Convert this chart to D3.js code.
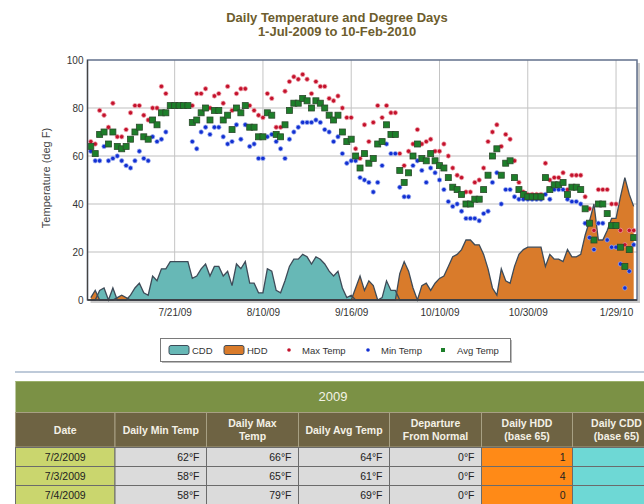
<!DOCTYPE html>
<html><head><meta charset="utf-8">
<script src="https://cdn.jsdelivr.net/npm/d3@7"></script>
<style>
body{margin:0;background:#fff;}
svg{display:block;font-family:"Liberation Sans",Arial,sans-serif;}
</style></head><body>
<svg id="c" width="644" height="504"></svg>
<script>
const dates = [
"7/2/09","7/3/09","7/4/09","7/5/09","7/6/09","7/7/09","7/8/09","7/9/09","7/10/09","7/11/09",
"7/12/09","7/13/09","7/14/09","7/15/09","7/16/09","7/17/09","7/18/09","7/19/09","7/20/09","7/21/09",
"7/22/09","7/23/09","7/24/09","7/25/09","7/26/09","7/27/09","7/28/09","7/29/09","7/30/09","7/31/09",
"8/1/09","8/2/09","8/3/09","8/4/09","8/5/09","8/6/09","8/7/09","8/8/09","8/9/09","8/10/09",
"8/11/09","8/12/09","8/13/09","8/14/09","8/15/09","8/16/09","8/17/09","8/18/09","8/19/09","8/20/09",
"8/21/09","8/22/09","8/23/09","8/24/09","8/25/09","8/26/09","8/27/09","9/14/09","9/15/09","9/16/09",
"9/17/09","9/18/09","9/19/09","9/20/09","9/21/09","9/22/09","9/23/09","9/24/09","9/25/09","9/26/09",
"9/27/09","9/28/09","9/29/09","9/30/09","10/1/09","10/2/09","10/7/09","10/8/09","10/9/09","10/10/09",
"10/11/09","10/12/09","10/13/09","10/14/09","10/15/09","10/16/09","10/17/09","10/18/09","10/19/09","10/20/09",
"10/21/09","10/22/09","10/23/09","10/24/09","10/25/09","10/26/09","10/27/09","10/28/09","10/29/09","10/30/09",
"10/31/09","11/1/09","11/2/09","11/3/09","11/4/09","11/5/09","11/6/09","11/7/09","11/8/09","11/9/09",
"11/10/09","11/11/09","11/12/09","11/13/09","11/14/09","11/15/09","1/26/10","1/27/10","1/28/10","1/29/10",
"2/7/10","2/8/10","2/9/10","2/10/10"];
const maxTemp = [
66,65,79,77,72,82,68,68,71,78, 81,81,77,75,80,80,89,86,81,81,
81,81,81,81,86,86,88,80,85,86, 82,89,79,86,88,88,81,79,77,76,
86,84,72,72,87,91,93,92,94,92, 86,91,89,89,84,83,85,80,76,76,
63,59,73,66,74,81,76,81,78,78, 61,56,62,65,71,65,66,67,62,62,
65,60,55,52,51,45,45,49,50,55, 66,70,73,64,69,67,58,49,45,44,
44,44,44,57,50,51,51,53,46,52, 52,52,43,38,29,46,46,46,40,40,
29,23,29,29];
const minTemp = [
62,58,58,64,58,59,60,58,56,55, 58,62,59,58,68,66,67,70,81,81,
81,81,81,66,63,70,72,69,72,72, 68,65,66,73,67,73,64,65,59,59,
68,69,66,63,59,67,70,72,74,74, 74,75,74,71,70,66,68,61,57,58,
58,51,50,49,45,49,56,65,61,61, 47,43,43,56,58,54,49,55,53,50,
46,41,39,40,37,34,34,34,33,36, 37,49,53,40,46,46,43,42,42,42,
42,42,42,44,42,46,46,46,42,41, 41,40,32,26,21,32,32,25,22,22,
15,5,12,23];
const avgTemp = [
64,61,69,70,65,70,64,63,64,67, 70,72,68,67,75,73,78,78,81,81,
81,81,81,74,75,78,80,75,79,79, 75,77,71,80,78,81,72,72,68,68,
78,77,69,68,73,79,82,82,84,83, 80,83,82,80,77,75,77,70,66,67,
60,55,61,57,59,65,66,73,69,69, 54,49,53,60,65,59,58,61,58,56,
55,51,47,46,44,40,40,42,42,46, 52,60,63,52,57,58,51,46,44,43,
43,43,43,51,46,48,48,49,44,47, 47,46,38,32,25,40,40,36,31,31,
22,14,21,26];
const cddValues = [
0,0,4,5,0,5,0,0,0,2, 5,7,3,2,10,8,13,13,16,16,
16,16,16,9,10,13,15,10,14,14, 10,12,6,15,13,16,7,7,3,3,
13,12,4,3,8,14,17,17,19,18, 15,18,17,15,12,10,12,5,1,2,
0,0,0,0,0,0,1,8,4,4, 0,0,0,0,0,0,0,0,0,0,
0,0,0,0,0,0,0,0,0,0, 0,0,0,0,0,0,0,0,0,0,
0,0,0,0,0,0,0,0,0,0, 0,0,0,0,0,0,0,0,0,0,
0,0,0,0];
const hddValues = [
1,4,0,0,0,0,1,2,1,0, 0,0,0,0,0,0,0,0,0,0,
0,0,0,0,0,0,0,0,0,0, 0,0,0,0,0,0,0,0,0,0,
0,0,0,0,0,0,0,0,0,0, 0,0,0,0,0,0,0,0,0,0,
5,10,4,8,6,0,0,0,0,0, 11,16,12,5,0,6,7,4,7,9,
10,14,18,19,21,25,25,23,23,19, 13,5,2,13,8,7,14,19,21,22,
22,22,22,14,19,17,17,16,21,18, 18,19,27,33,40,25,25,29,34,34,
43,51,44,39];
const tickLabels = ["7/21/09","8/10/09","9/16/09","10/10/09","10/30/09","1/29/10"];
const yTicks = [0,20,40,60,80,100];
const legendLabels = ["CDD","HDD","Max Temp","Min Temp","Avg Temp"];
const titleLines = ["Daily Temperature and Degree Days","1-Jul-2009 to 10-Feb-2010"];
const yTitle = "Temperature (deg F)";

const tableYear = "2009";
const tableHeaders = [["Date"],["Daily Min Temp"],["Daily Max","Temp"],["Daily Avg Temp"],["Departure","From Normal"],["Daily HDD","(base 65)"],["Daily CDD","(base 65)"]];
const tableDates = ["7/2/2009","7/3/2009","7/4/2009"];
const tableMin = [62,58,58];
const tableMax = [66,65,79];
const tableAvg = [64,61,69];
const tableDep = [0,0,0];
const tableHDD = [1,4,0];

const svg = d3.select("#c");
const L = 87.5, R = 637, T = 60, B = 300;
const x = d3.scalePoint().domain(dates).range([L, R]).padding(0.75);
const y = d3.scaleLinear().domain([0, 100]).range([B, T]);

// titles
svg.selectAll("text.title").data(titleLines).join("text")
  .attr("x", 337).attr("y", (d, i) => 22 + i * 14)
  .attr("text-anchor", "middle").attr("font-weight", "bold").attr("font-size", 13)
  .attr("fill", "#6d5d2d").text(d => d);

// plot shadow & background
svg.append("rect").attr("x", L + 3).attr("y", T + 3).attr("width", R - L).attr("height", B - T).attr("fill", "#c9c9c9");
svg.append("rect").attr("x", L).attr("y", T).attr("width", R - L).attr("height", B - T).attr("fill", "#fff");

// grid
svg.append("g").selectAll("line").data(yTicks.filter(d => d > 0 && d < 100)).join("line")
  .attr("x1", L).attr("x2", R).attr("y1", d => y(d)).attr("y2", d => y(d))
  .attr("stroke", "#d4d4d4").attr("stroke-width", 1.5);
svg.append("g").selectAll("line").data(tickLabels).join("line")
  .attr("x1", d => x(d)).attr("x2", d => x(d)).attr("y1", T).attr("y2", B)
  .attr("stroke", "#c4c4c4").attr("stroke-width", 1);

// areas
const area = d3.area().x((d, i) => x(dates[i])).y0(y(0)).y1(d => y(d));
const topLine = d3.line().x((d, i) => x(dates[i])).y(d => y(d));
svg.append("path").datum(cddValues).attr("d", area).attr("fill", "#67b8b6");
svg.append("path").datum(hddValues).attr("d", area).attr("fill", "#d97b2b");
svg.append("path").datum(cddValues).attr("d", topLine).attr("fill", "none").attr("stroke", "#3e4b58").attr("stroke-width", 1.3);
svg.append("path").datum(hddValues).attr("d", topLine).attr("fill", "none").attr("stroke", "#3e4b58").attr("stroke-width", 1.3);

// markers
svg.append("g").selectAll("circle").data(maxTemp).join("circle")
  .attr("cx", (d, i) => x(dates[i])).attr("cy", d => y(d)).attr("r", 2.2)
  .attr("fill", "#c3122c").attr("stroke", "#f2a3ad").attr("stroke-width", 0.7);
svg.append("g").selectAll("circle").data(minTemp).join("circle")
  .attr("cx", (d, i) => x(dates[i])).attr("cy", d => y(d)).attr("r", 2.2)
  .attr("fill", "#1230d2").attr("stroke", "#9fb0f2").attr("stroke-width", 0.7);
svg.append("g").selectAll("rect").data(avgTemp).join("rect")
  .attr("x", (d, i) => x(dates[i]) - 3).attr("y", d => y(d) - 3).attr("width", 6).attr("height", 6)
  .attr("fill", "#1d7f2a").attr("stroke", "#2b4a2b").attr("stroke-width", 0.8);

// frame
svg.append("rect").attr("x", L).attr("y", T).attr("width", R - L).attr("height", B - T)
  .attr("fill", "none").attr("stroke", "#62708c").attr("stroke-width", 1.5);
svg.append("line").attr("x1", L).attr("x2", R).attr("y1", B).attr("y2", B).attr("stroke", "#333").attr("stroke-width", 1.5);
svg.append("line").attr("x1", L).attr("x2", L).attr("y1", T).attr("y2", B).attr("stroke", "#444").attr("stroke-width", 1.2);

// axes
const yAxis = svg.append("g").attr("transform", `translate(${L},0)`)
  .call(d3.axisLeft(y).tickValues(yTicks).tickSize(0).tickPadding(4));
yAxis.select(".domain").remove();
yAxis.selectAll("text").attr("font-size", 10).attr("fill", "#333").attr("font-family", "Liberation Sans, Arial, sans-serif");
const xAxis = svg.append("g").attr("transform", `translate(0,${B})`)
  .call(d3.axisBottom(x).tickValues(tickLabels).tickSize(0).tickPadding(9));
xAxis.select(".domain").remove();
xAxis.selectAll("text").attr("font-size", 10).attr("fill", "#333").attr("font-family", "Liberation Sans, Arial, sans-serif");

svg.append("text").attr("transform", "translate(50,178) rotate(-90)")
  .attr("text-anchor", "middle").attr("font-size", 11).attr("fill", "#444").text(yTitle);

// legend
const lg = svg.append("g");
lg.append("rect").attr("x", 162).attr("y", 340).attr("width", 350).attr("height", 23).attr("fill", "#bbb");
lg.append("rect").attr("x", 160.5).attr("y", 338.5).attr("width", 350).attr("height", 23).attr("fill", "#fff").attr("stroke", "#7a7a7a");
const ly = 350;
lg.append("rect").attr("x", 169).attr("y", ly - 4.5).attr("width", 20).attr("height", 9).attr("rx", 2).attr("fill", "#67b8b6").attr("stroke", "#3e4b58");
lg.append("rect").attr("x", 224).attr("y", ly - 4.5).attr("width", 20).attr("height", 9).attr("rx", 2).attr("fill", "#d97b2b").attr("stroke", "#3e4b58");
lg.append("circle").attr("cx", 289).attr("cy", ly).attr("r", 1.8).attr("fill", "#c3122c");
lg.append("circle").attr("cx", 368).attr("cy", ly).attr("r", 1.8).attr("fill", "#1230d2");
lg.append("rect").attr("x", 441).attr("y", ly - 2).attr("width", 4).attr("height", 4).attr("fill", "#1d7f2a");
const lx = [192, 247, 302, 381, 457];
lg.selectAll("text").data(legendLabels).join("text")
  .attr("x", (d, i) => lx[i]).attr("y", ly + 3.5).attr("font-size", 9.5).attr("fill", "#333").text(d => d);

// separator
svg.append("line").attr("x1", 15).attr("x2", 644).attr("y1", 372).attr("y2", 372).attr("stroke", "#a9b9cd").attr("stroke-width", 1.5);

// table
const cols = [15.5, 115, 206.5, 298.5, 389.5, 481.5, 572.5, 700];
svg.append("rect").attr("x", cols[0]).attr("y", 381).attr("width", 644 - cols[0]).attr("height", 31).attr("fill", "#7b9145");
svg.append("line").attr("x1", cols[0]).attr("x2", 644).attr("y1", 381.5).attr("y2", 381.5).attr("stroke", "#9bb06a");
svg.append("text").attr("x", 333).attr("y", 401).attr("text-anchor", "middle").attr("font-size", 13).attr("fill", "#f3f3e6").text(tableYear);

const hdr = svg.append("g");
tableHeaders.forEach((lines, i) => {
  hdr.append("rect").attr("x", cols[i]).attr("y", 412.5).attr("width", cols[i + 1] - cols[i]).attr("height", 34.5)
    .attr("fill", "#6e6343").attr("stroke", "#a7a083").attr("stroke-width", 1);
  const cxx = i === 6 ? cols[i] + 44 : (cols[i] + cols[i + 1]) / 2;
  lines.forEach((t, k) => {
    hdr.append("text").attr("x", cxx).attr("y", lines.length === 1 ? 433.5 : 427 + k * 13)
      .attr("text-anchor", "middle").attr("font-size", 10.5).attr("font-weight", "bold")
      .attr("fill", "#f4f1e6").text(t);
  });
});

const rowsG = svg.append("g");
const fmt = v => v + "°F";
tableDates.forEach((dt, r) => {
  const y0 = 447.5 + r * 19;
  const vals = [dt, fmt(tableMin[r]), fmt(tableMax[r]), fmt(tableAvg[r]), fmt(tableDep[r]), String(tableHDD[r]), null];
  const fills = ["#cad66e", "#dbdbdb", "#dbdbdb", "#dbdbdb", "#dbdbdb", "#ff8a17", "#6ed8d5"];
  vals.forEach((v, c) => {
    rowsG.append("rect").attr("x", cols[c]).attr("y", y0).attr("width", cols[c + 1] - cols[c]).attr("height", 19)
      .attr("fill", fills[c]).attr("stroke", "#6b6b6b").attr("stroke-width", 1);
    if (v === null) return;
    const t = rowsG.append("text").attr("y", y0 + 13.5).attr("font-size", 10.5).attr("fill", "#222").text(v);
    if (c === 0) t.attr("x", (cols[0] + cols[1]) / 2).attr("text-anchor", "middle");
    else t.attr("x", cols[c + 1] - 7).attr("text-anchor", "end");
  });
});
</script>
</body></html>
